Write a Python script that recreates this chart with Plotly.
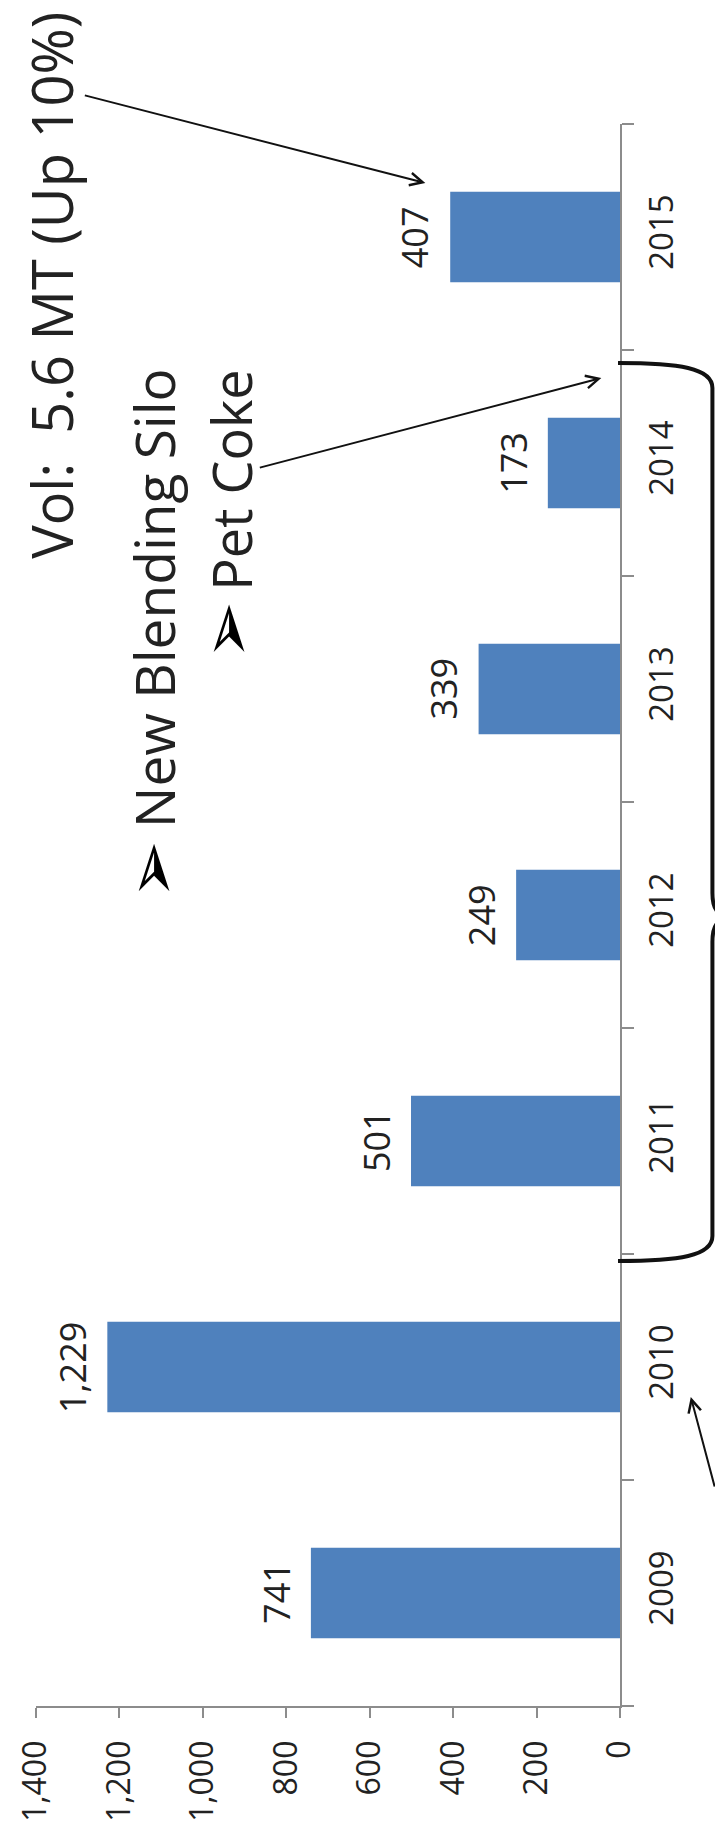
import plotly.graph_objects as go

years = ["2009", "2010", "2011", "2012", "2013", "2014", "2015"]
values = [741, 1229, 501, 249, 339, 173, 407]
value_ticks = [0, 200, 400, 600, 800, 1000, 1200, 1400]

title_text = "Vol:\u00a0 5.6 MT (Up 10%)"
bullet = "\u27a2"
bullet_lines = ["New Blending Silo", "Pet Coke"]

W, H = 715, 1842
L, R, T, B = 26, 95, 124, 136
FONT = "Open Sans, DejaVu Sans, sans-serif"
INK = "#222222"
AXIS = "#8c8c8c"


def px(X):
    return (X - L) / (W - L - R)


def py(Y):
    return (H - B - Y) / (H - T - B)


fig = go.Figure()
fig.add_trace(go.Bar(
    y=years, x=values, orientation="h",
    marker=dict(color="#4F81BD", line=dict(width=0)),
    hoverinfo="skip",
))

annotations = []
# data labels: x through the value axis, y at the centre of each category band
n = len(years)
for i, v in enumerate(values):
    annotations.append(dict(text=f"{v:,}", x=v, y=(i + 0.5) / n, xref="x", yref="paper",
                            xanchor="center", yanchor="middle", xshift=-35,
                            showarrow=False, textangle=-90,
                            font=dict(family=FONT, size=36, color=INK)))
# big text lines
big = [(title_text, 41, 285, 56), (bullet_lines[0], 145, 598, 55), (bullet_lines[1], 224, 480, 54)]
for txt, X, Y, s in big:
    annotations.append(dict(text=txt, x=px(X), y=py(Y), xref="paper", yref="paper",
                            xanchor="center", yanchor="middle",
                            showarrow=False, textangle=-90, font=dict(family=FONT, size=s, color=INK)))
for bx, by in [(144, 870), (220, 630)]:
    annotations.append(dict(text=bullet, x=px(bx), y=py(by), xref="paper", yref="paper",
                            xanchor="center", yanchor="middle",
                            showarrow=False, textangle=-90,
                            font=dict(family="DejaVu Sans", size=70, color="#000")))
# arrows
for (tx, ty), (sx, sy) in [((422, 183), (80, 95)), ((601, 378), (258, 468)), ((692, 1397), (745, 1488))]:
    annotations.append(dict(text="", x=px(tx), y=py(ty), xref="paper", yref="paper",
                            xanchor="center", yanchor="middle",
                            ax=sx - tx, ay=sy - ty, showarrow=True, arrowhead=5,
                            arrowsize=1.25, arrowwidth=2, arrowcolor="#111", standoff=0, startstandoff=0))


def P(X, Y):
    return f"{px(X):.5f},{py(Y):.5f}"


S = 714
brace = (f"M {P(618,363)} C {P(680,363)} {P(S,368)} {P(S,388)} "
         f"L {P(S,893)} C {P(S,910)} {P(S+5,915)} {P(S+20,917)} "
         f"C {P(S+5,919)} {P(S,925)} {P(S,942)} "
         f"L {P(S,1236)} C {P(S,1256)} {P(680,1261)} {P(618,1261)}")

fig.update_layout(
    width=W, height=H,
    margin=dict(l=L, r=R, t=T, b=B),
    paper_bgcolor="white", plot_bgcolor="white",
    showlegend=False, bargap=0.6,
    annotations=annotations,
    shapes=[dict(type="path", path=brace, xref="paper", yref="paper",
                 line=dict(color="#111", width=4), layer="above")],
    xaxis=dict(range=[1400, 0], tickvals=value_ticks, tickformat=",", tickangle=-90,
               ticks="outside", ticklen=10, tickcolor=AXIS, tickwidth=1.5, ticklabelstandoff=10,
               showline=True, linecolor=AXIS, linewidth=1.5, showgrid=False, zeroline=False,
               tickfont=dict(family=FONT, size=32, color=INK)),
    yaxis=dict(type="category", side="right", range=[-0.5, 6.5], tickangle=-90,
               ticks="outside", tickson="boundaries", ticklen=12, tickcolor=AXIS, tickwidth=1.5,
               ticklabelstandoff=12,
               showline=True, linecolor=AXIS, linewidth=1.5, showgrid=False, zeroline=False,
               tickfont=dict(family=FONT, size=33, color=INK)),
)

fig.write_html("out.html", config={"displayModeBar": False},
               post_script="document.body.style.margin='0';document.body.style.overflow='hidden';")
